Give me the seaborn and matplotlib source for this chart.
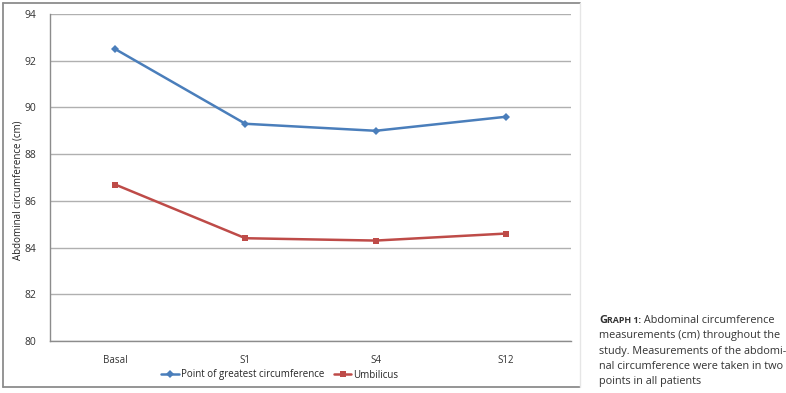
import pandas as pd
import matplotlib.pyplot as plt
import seaborn as sns

# data
visits = ['Basal', 'S1', 'S4', 'S12']
greatest_point = [92.5, 89.3, 89.0, 89.6]
umbilicus = [86.7, 84.4, 84.3, 84.6]
series_names = ['Point of greatest circumference', 'Umbilicus']
y_ticks = [80, 82, 84, 86, 88, 90, 92, 94]

BLUE = '#4A7EBB'
RED = '#BE4B48'

df = pd.DataFrame({
    'visit': visits * 2,
    'cm': greatest_point + umbilicus,
    'series': [series_names[0]] * 4 + [series_names[1]] * 4,
})

sns.set_theme(style='white')
plt.rcParams['font.family'] = ['Open Sans', 'DejaVu Sans']

fig = plt.figure(figsize=(7.86, 3.93), dpi=100)
W, H = 786, 393
ax = fig.add_axes([50 / W, 1 - 341 / H, (571 - 50) / W, (341 - 14) / H])

# outer chart frame (right edge is very faint in the original)
fx0, fx1, fy0, fy1 = 3 / W, 580 / W, 1 - 387 / H, 1 - 3 / H
frame_kw = dict(transform=fig.transFigure, color='#8c8c8c', linewidth=1.3)
fig.add_artist(plt.Line2D([fx0, fx1], [fy1, fy1], **frame_kw))
fig.add_artist(plt.Line2D([fx0, fx1], [fy0, fy0], **frame_kw))
fig.add_artist(plt.Line2D([fx0, fx0], [fy0, fy1], **frame_kw))
fig.add_artist(plt.Line2D([fx1, fx1], [fy0, fy1], transform=fig.transFigure,
                          color='#e6e6e6', linewidth=1))

sns.lineplot(data=df, x='visit', y='cm', hue='series', style='series',
             palette=[BLUE, RED], markers={series_names[0]: 'D', series_names[1]: 's'},
             dashes=False, markersize=5, linewidth=1.8, markeredgewidth=0,
             sort=False, ax=ax, legend=False)
# smaller diamond
for line in ax.lines[:1]:
    line.set_markersize(4)

ax.set_xlim(-0.5, 3.5)
ax.set_ylim(80, 94)
ax.set_yticks(y_ticks)
ax.set_xticks(range(len(visits)))
ax.set_xticklabels(visits)
ax.set_xticks([i + 0.5 for i in range(-1, 4)], minor=True)
ax.yaxis.grid(True, color='#b0b0b0', linewidth=1)
ax.set_axisbelow(True)
for s in ['top', 'right']:
    ax.spines[s].set_visible(False)
for s in ['left', 'bottom']:
    ax.spines[s].set_color('#8c8c8c')
    ax.spines[s].set_linewidth(1)
ax.tick_params(axis='x', which='major', length=0, pad=10, labelsize=7, labelcolor='#333333')
ax.tick_params(axis='x', which='minor', length=4, color='#8c8c8c', direction='out')
ax.tick_params(axis='y', length=4, color='#8c8c8c', direction='out', labelsize=7.5,
               labelcolor='#333333', pad=6)
ax.set_xlabel('')
ax.set_ylabel('Abdominal circumference (cm)', fontsize=7, color='#222222')
ax.yaxis.set_label_coords((24 - 50) / 521, 0.46)

# legend along the bottom
handles = [plt.Line2D([], [], color=BLUE, marker='D', markersize=4, markeredgewidth=0, linewidth=1.8),
           plt.Line2D([], [], color=RED, marker='s', markersize=5, markeredgewidth=0, linewidth=1.8)]
fig.legend(handles, series_names, loc='center', bbox_to_anchor=(280 / W, 1 - 375 / H), ncol=2,
           frameon=False, fontsize=7, handlelength=1.8, handletextpad=0.2, columnspacing=1.0)

# caption on the right
cap_x = 599 / W
fig.canvas.draw()
r = fig.canvas.get_renderer()
y0 = 1 - 323 / H
t1 = fig.text(cap_x, y0, 'G', fontsize=8, fontweight='bold', color='#333333', va='baseline')
x = cap_x + t1.get_window_extent(r).width / W
t2 = fig.text(x, y0, 'RAPH 1:', fontsize=6.4, fontweight='bold', color='#333333', va='baseline')
x += t2.get_window_extent(r).width / W
fig.text(x, y0, ' Abdominal circumference', fontsize=7.8, color='#333333', va='baseline')
lines = ['measurements (cm) throughout the',
         'study. Measurements of the abdomi-',
         'nal circumference were taken in two',
         'points in all patients']
for i, s in enumerate(lines):
    fig.text(cap_x, y0 - (i + 1) * 15.3 / H, s, fontsize=7.8, color='#333333', va='baseline')

fig.savefig('out.png', dpi=100)
